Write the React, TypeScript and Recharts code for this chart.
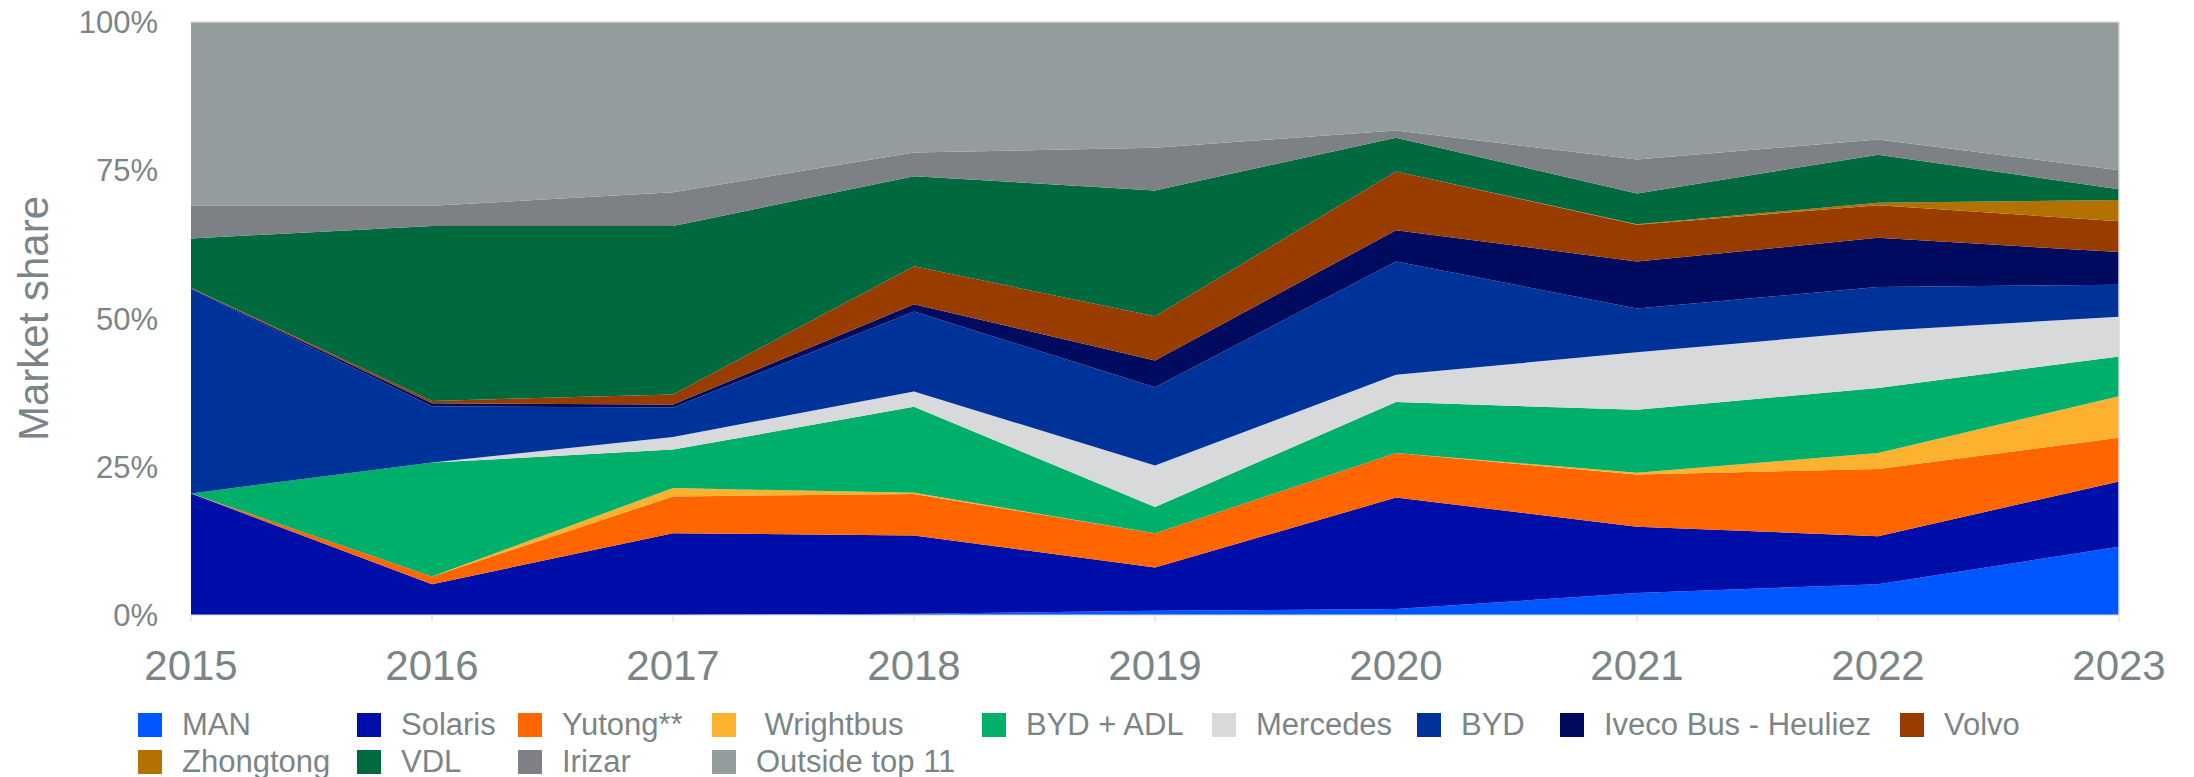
import React from 'react';
import { AreaChart, Area, XAxis, YAxis, Legend, ReferenceLine } from 'recharts';

const years = ['2015', '2016', '2017', '2018', '2019', '2020', '2021', '2022', '2023'];

const MAN = [0, 0, 0, 0.2, 0.7, 1.0, 3.7, 5.2, 11.5];
const Solaris = [20.5, 5.2, 13.8, 13.2, 7.3, 18.8, 11.2, 8.1, 11.0];
const Yutong = [0, 1.3, 6.2, 7.0, 5.8, 7.5, 8.8, 11.3, 7.4];
const Wrightbus = [0, 0, 1.4, 0.2, 0, 0, 0.3, 2.7, 7.0];
const BYDADL = [0, 19.2, 6.5, 14.5, 4.4, 8.6, 10.6, 11.0, 6.7];
const Mercedes = [0, 0, 2.1, 2.6, 7.0, 4.6, 9.7, 9.6, 6.7];
const BYD = [34.5, 9.5, 5.0, 13.5, 13.2, 19.1, 7.4, 7.4, 5.4];
const Iveco = [0.1, 0.5, 0.5, 1.2, 4.5, 5.3, 7.9, 8.3, 5.5];
const Volvo = [0.1, 0.4, 1.7, 6.4, 7.5, 9.9, 6.2, 5.5, 5.2];
const Zhongtong = [0, 0, 0, 0, 0, 0, 0.1, 0.4, 3.6];
const VDL = [8.3, 29.5, 28.4, 15.2, 21.2, 5.7, 5.2, 8.1, 1.8];
const Irizar = [5.5, 3.4, 5.7, 4.0, 7.2, 1.2, 5.7, 2.6, 3.2];
const Outside = [31.0, 31.0, 28.7, 22.0, 21.2, 18.3, 23.2, 19.8, 25.0];

const yTicks = [0, 25, 50, 75, 100];

const SERIES = [
  { key: 'MAN', name: 'MAN', values: MAN, color: '#0057ff' },
  { key: 'Solaris', name: 'Solaris', values: Solaris, color: '#000ea9' },
  { key: 'Yutong', name: 'Yutong**', values: Yutong, color: '#ff6600' },
  { key: 'Wrightbus', name: ' Wrightbus', values: Wrightbus, color: '#fcb12f' },
  { key: 'BYDADL', name: 'BYD + ADL', values: BYDADL, color: '#00b06a' },
  { key: 'Mercedes', name: 'Mercedes', values: Mercedes, color: '#d8d9db' },
  { key: 'BYD', name: 'BYD', values: BYD, color: '#003399' },
  { key: 'Iveco', name: 'Iveco Bus - Heuliez', values: Iveco, color: '#000b5f' },
  { key: 'Volvo', name: 'Volvo', values: Volvo, color: '#993c00' },
  { key: 'Zhongtong', name: 'Zhongtong', values: Zhongtong, color: '#b37100' },
  { key: 'VDL', name: 'VDL', values: VDL, color: '#006a3f' },
  { key: 'Irizar', name: 'Irizar', values: Irizar, color: '#7d8084' },
  { key: 'Outside', name: 'Outside top 11', values: Outside, color: '#959c9d' },
];

const data = years.map((year, i) => {
  const row: Record<string, number | string> = { year };
  SERIES.forEach((s) => {
    row[s.key] = s.values[i];
  });
  return row;
});

const TEXT = '#7b8587';
const FONT = '"Liberation Sans", Arial, Helvetica, sans-serif';
const legendCols = '219px 161px 194px 270px 230px 205px 143px 340px 200px';

function renderLegend() {
  return (
    <div
      style={{
        display: 'grid',
        gridTemplateColumns: legendCols,
        gridAutoRows: '37px',
        paddingLeft: 138,
        fontFamily: FONT,
        fontSize: 31,
        color: TEXT,
        textAlign: 'left',
      }}
    >
      {SERIES.map((s) => (
        <div key={s.key} style={{ display: 'flex', alignItems: 'center', height: 37, whiteSpace: 'pre' }}>
          <span style={{ display: 'inline-block', width: 24, height: 24, background: s.color, marginRight: 20, flex: 'none' }} />
          <span style={{ lineHeight: '37px' }}>{s.name}</span>
        </div>
      ))}
    </div>
  );
}

function YLabel(props: any) {
  const vb = props.viewBox || { x: 0, y: 0, width: 0, height: 0 };
  const cx = vb.x + 33;
  const cy = vb.y + vb.height / 2;
  return (
    <text
      x={cx}
      y={cy}
      transform={`rotate(-90 ${cx} ${cy})`}
      textAnchor="middle"
      dominantBaseline="central"
      fill={TEXT}
      fontSize={42}
      fontFamily={FONT}
    >
      Market share
    </text>
  );
}

export default function App() {
  return (
    <div style={{ position: 'absolute', left: 0, top: 0, width: 2194, height: 777, background: '#fff' }}>
      <AreaChart
        width={2194}
        height={777}
        data={data}
        margin={{ top: 22, right: 75, bottom: 62, left: 0 }}
        style={{ fontFamily: FONT }}
      >
        <XAxis
          dataKey="year"
          height={100}
          tickSize={7}
          tickMargin={28}
          tickLine={{ stroke: '#d9d9d9' }}
          axisLine={{ stroke: '#d9d9d9' }}
          tick={{ fill: TEXT, fontSize: 42, fontFamily: FONT }}
          interval={0}
        />
        <YAxis
          width={191}
          domain={[0, 100]}
          ticks={yTicks}
          tickFormatter={(v: number) => `${v}%`}
          tickLine={false}
          axisLine={false}
          tickSize={0}
          tickMargin={33}
          tick={{ fill: TEXT, fontSize: 31, fontFamily: FONT }}
          allowDataOverflow
          label={<YLabel />}
        />
        {SERIES.map((s) => (
          <Area
            key={s.key}
            type="linear"
            dataKey={s.key}
            name={s.name}
            stackId="1"
            stroke="none"
            strokeWidth={0}
            fill={s.color}
            fillOpacity={1}
            isAnimationActive={false}
            dot={false}
            activeDot={false}
          />
        ))}
        <ReferenceLine y={100} stroke="#d9d9d9" strokeWidth={1.5} ifOverflow="visible" />
        <ReferenceLine x="2023" stroke="#d9d9d9" strokeWidth={1.5} ifOverflow="visible" />
        <Legend
          layout="horizontal"
          align="center"
          verticalAlign="middle"
          content={renderLegend}
          wrapperStyle={{ position: 'absolute', left: 0, top: 706, width: 2194, height: 80 }}
        />
      </AreaChart>
    </div>
  );
}
